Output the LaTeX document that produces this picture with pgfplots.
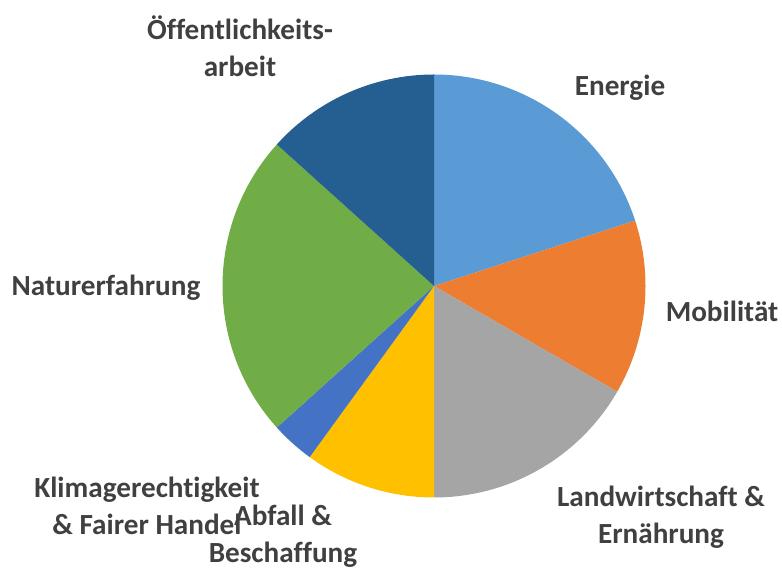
\documentclass[border=0pt]{standalone}
\usepackage{pgfplots}
\pgfplotsset{compat=1.18}
\usepackage{pgfplotstable}
\usepackage{fontspec}
\setmainfont[Ligatures={NoCommon}]{Carlito}
\definecolor{pie0}{HTML}{5B9BD5}
\definecolor{pie1}{HTML}{ED7D31}
\definecolor{pie2}{HTML}{A5A5A5}
\definecolor{pie3}{HTML}{FFC000}
\definecolor{pie4}{HTML}{4472C4}
\definecolor{pie5}{HTML}{70AD47}
\definecolor{pie6}{HTML}{255E91}
\definecolor{txt}{HTML}{404040}
\pgfplotstableread{
value
6
4
5
3
1
7
4
}\piedata
\begin{document}
\begin{tikzpicture}
\def\total{30}
\def\cum{0}
\pgfplotsforeachungrouped \i in {0,...,6}{%
  \pgfplotstablegetelem{\i}{value}\of\piedata
  \pgfmathsetmacro\startang{90-360*\cum/\total}%
  \pgfmathsetmacro\cum{\cum+\pgfplotsretval}%
  \pgfmathsetmacro\endang{90-360*\cum/\total}%
  \expandafter\xdef\csname sa\i\endcsname{\startang}%
  \expandafter\xdef\csname ea\i\endcsname{\endang}%
}
\begin{axis}[hide axis, x=1bp, y=1bp, xmin=-434, xmax=348, ymin=-282, ymax=286, clip=false]
\path (axis cs:-434,-282) rectangle (axis cs:348,286);
\pgfplotsinvokeforeach{0,...,6}{%
  \fill[pie#1] (axis cs:0,0) -- (axis cs:{211.5*cos(\csname sa#1\endcsname)},{211.5*sin(\csname sa#1\endcsname)}) arc[start angle=\csname sa#1\endcsname, end angle=\csname ea#1\endcsname, radius=211.5bp] -- cycle;
}
\tikzset{lab/.style={align=center, text=txt, font=\fontsize{29.3}{37}\selectfont\bfseries, inner sep=0pt}}
\node[lab] at (axis cs:186,198) {Energie};
\node[lab] at (axis cs:288,-25) {Mobilität};
\node[lab] at (axis cs:227,-231) {Landwirtschaft \&\\Ernährung};
\node[lab] at (axis cs:-287,-220) {Klimagerechtigkeit\\\& Fairer Handel};
\node[lab] at (axis cs:-151,-250) {Abfall \&\\Beschaffung};
\node[lab] at (axis cs:-328,-2) {Naturerfahrung};
\node[lab] at (axis cs:-194,240) {Öffentlichkeits-\\arbeit};
\end{axis}
\end{tikzpicture}
\end{document}
